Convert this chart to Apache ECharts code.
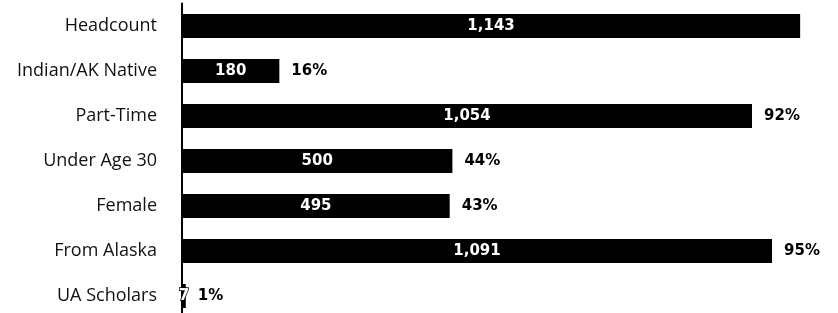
<!DOCTYPE html>
<html>
<head>
<meta charset="utf-8">
<script src="https://cdn.jsdelivr.net/npm/echarts@6/dist/echarts.min.js"></script>
<style>
  html, body { margin: 0; padding: 0; background: #fff; }
  #chart { width: 838px; height: 313px; }
</style>
</head>
<body>
<div id="chart"></div>
<script>
// categories, counts and share of headcount
var categories = ['Headcount', 'Indian/AK Native', 'Part-Time', 'Under Age 30', 'Female', 'From Alaska', 'UA Scholars'];
var counts = [1143, 180, 1054, 500, 495, 1091, 7];
var percents = [null, 16, 92, 44, 43, 95, 1];

var chart = echarts.init(document.getElementById('chart'));
var option = {
    animation: false,
    grid: {
        left: 182,
        right: 0,
        top: 3.5,
        bottom: -5.5,
        outerBoundsMode: 'none'
    },
    xAxis: {
        type: 'value',
        min: 0,
        max: 1213,
        show: false
    },
    yAxis: {
        type: 'category',
        data: categories,
        inverse: true,
        axisLine: { lineStyle: { color: '#000', width: 2 } },
        axisTick: { show: false },
        axisLabel: {
            color: '#111',
            fontFamily: 'Open Sans',
            fontSize: 18,
            margin: 25
        }
    },
    series: [{
        // the bars with counts inside
        type: 'bar',
        data: counts,
        barWidth: 24,
        itemStyle: { color: '#000' },
        label: {
            show: true,
            position: 'inside',
            color: '#fff',
            fontFamily: 'DejaVu Sans',
            fontWeight: 'bold',
            fontSize: 15,
            textBorderColor: '#000',
            textBorderWidth: 1.5,
            formatter: function(p) {
                return p.value.toLocaleString('en-US');
            }
        }
    }, {
        // invisible copy just to hang the percent labels on the right
        type: 'bar',
        data: counts,
        barWidth: 24,
        barGap: '-100%',
        itemStyle: { color: 'transparent' },
        silent: true,
        label: {
            show: true,
            position: 'right',
            distance: 12,
            color: '#000',
            fontFamily: 'DejaVu Sans',
            fontWeight: 'bold',
            fontSize: 15,
            formatter: function(p) {
                var v = percents[p.dataIndex];
                return v == null ? '' : v + '%';
            }
        }
    }]
};
chart.setOption(option);
</script>
</body>
</html>
